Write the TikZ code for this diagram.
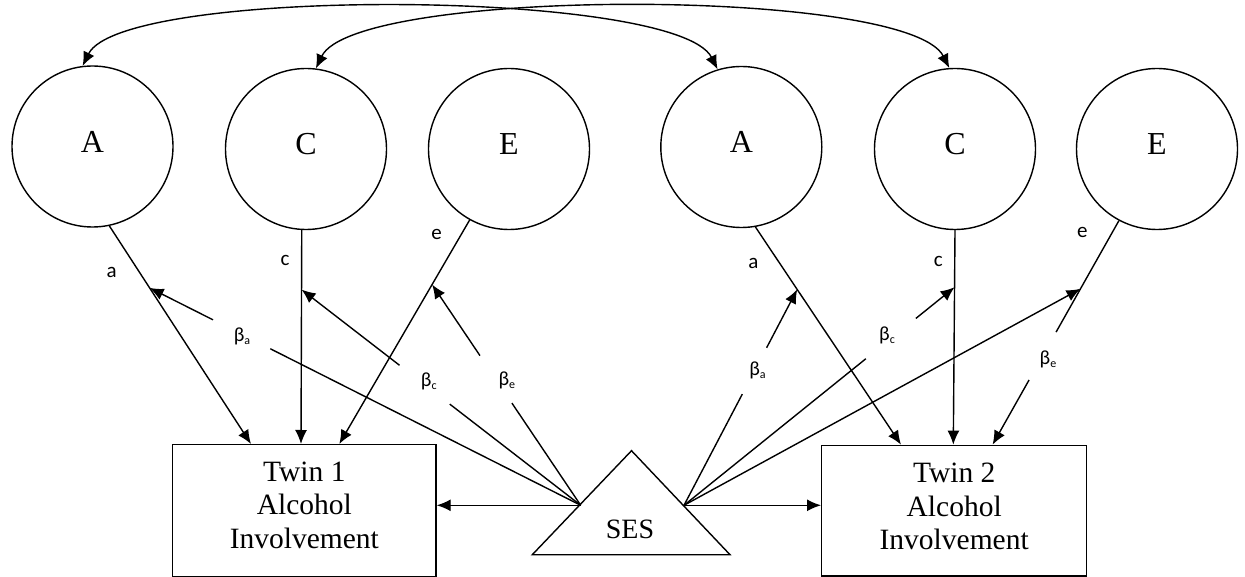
\documentclass[tikz,border=0pt]{standalone}
\usepackage{fontspec}
\setmainfont{Liberation Serif}
\newfontfamily\lblfont{Carlito}
\usetikzlibrary{arrows.meta,calc}
\newcommand{\betasub}[1]{β\raisebox{-3pt}{\fontsize{12}{12}\selectfont #1}}
\tikzset{
  ln/.style={line width=1.4pt},
  arr/.style={line width=1.4pt, -{Latex[length=14pt,width=12pt]}},
  dblarr/.style={line width=1.4pt, {Latex[length=14pt,width=12pt]}-{Latex[length=14pt,width=12pt]}},
  latent/.style={circle, draw, line width=1.4pt, minimum size=161pt, inner sep=0pt,
    font=\fontsize{32}{32}\selectfont, text height=21pt, text depth=9pt},
  obs/.style={rectangle, draw, line width=1.4pt, inner sep=0pt},
  boxtext/.style={align=center, inner sep=0pt, anchor=north, font=\fontsize{29.5}{33.5}\selectfont},
  plabel/.style={inner sep=0pt, font=\lblfont\fontsize{21}{21}\selectfont},
  blabel/.style={inner sep=0pt, font=\lblfont\fontsize{20}{20}\selectfont},
}
\begin{document}
\begin{tikzpicture}[x=1pt,y=-1pt]
\useasboundingbox (0,0) rectangle (1245,577);
\fill[white] (0,0) rectangle (1245,577);

% latent factors
\node[latent] (A1) at (92.5,146.5) {A};
\node[latent] (C1) at (306,149) {C};
\node[latent] (E1) at (509,149) {E};
\node[latent] (A2) at (741.3,147) {A};
\node[latent] (C2) at (955,149) {C};
\node[latent] (E2) at (1157,149) {E};

% observed boxes
\node[obs, minimum width=263.3pt, minimum height=131.6pt] (T1) at (304.35,510.5) {};
\node[obs, minimum width=265pt, minimum height=130.7pt] (T2) at (954.2,510.7) {};
\node[boxtext] (T1txt) at (304.35,461.3) {Twin 1\\Alcohol\\Involvement};
\node[boxtext] (T2txt) at (954.2,463) {Twin 2\\Alcohol\\Involvement};

% SES triangle
\draw[ln, line join=miter] (532.3,554.7) -- (631.5,450.7) -- (730,554.7) -- cycle;
\node[inner sep=0pt, anchor=base, font=\fontsize{28}{28}\selectfont] (SES) at (630,538.7) {SES};
\coordinate (sesL) at (580.7,505.3);
\coordinate (sesR) at (684,505.3);

% correlations between twins
\draw[dblarr] (A1.97.7) .. controls (122,-14) and (677,-11) .. (A2.107.7);
\draw[dblarr] (C1.83.6) .. controls (355,-13) and (908,-13) .. (C2.94.7);

% path end points
\coordinate (a1s) at (A1.282);
\coordinate (a1t) at ([xshift=79pt]T1.north west);
\coordinate (c1s) at (C1.267);
\coordinate (c1t) at ([xshift=129pt]T1.north west);
\coordinate (e1s) at (E1.241.4);
\coordinate (e1t) at ([xshift=167.3pt]T1.north west);
\coordinate (a2s) at (A2.280.7);
\coordinate (a2t) at ([xshift=80pt]T2.north west);
\coordinate (c2s) at (C2.270);
\coordinate (c2t) at ([xshift=132.3pt]T2.north west);
\coordinate (e2s) at (E2.242);
\coordinate (e2t) at ([xshift=171.6pt]T2.north west);

% ACE paths
\draw[arr] (a1s) -- (a1t);
\draw[arr] (c1s) -- (c1t);
\draw[arr] (e1s) -- (e1t);
\draw[arr] (a2s) -- (a2t);
\draw[arr] (c2s) -- (c2t);
\draw[ln] (e2s) -- ($(e2s)!0.4975!(e2t)$);
\draw[arr] ($(e2s)!0.711!(e2t)$) -- (e2t);

% moderation targets
\coordinate (mA1) at ($(a1s)!0.284!(a1t)$);
\coordinate (mC1) at ($(c1s)!0.278!(c1t)$);
\coordinate (mE1) at ($(e1s)!0.288!(e1t)$);
\coordinate (mA2) at ($(a2s)!0.287!(a2t)$);
\coordinate (mC2) at ($(c2s)!0.266!(c2t)$);
\coordinate (mE2) at ($(e2s)!0.304!(e2t)$);

% SES to twins
\draw[arr] (sesL) -- (sesL -| T1.east);
\draw[arr] (sesR) -- (sesR -| T2.west);

% moderation lines, twin 1
\draw[ln] (sesL) -- ($(sesL)!0.720!(mA1)$);
\draw[arr] ($(sesL)!0.853!(mA1)$) -- (mA1);
\draw[ln] (sesL) -- ($(sesL)!0.469!(mC1)$);
\draw[arr] ($(sesL)!0.649!(mC1)$) -- (mC1);
\draw[ln] (sesL) -- ($(sesL)!0.463!(mE1)$);
\draw[arr] ($(sesL)!0.678!(mE1)$) -- (mE1);

% moderation lines, twin 2
\draw[ln] (sesR) -- ($(sesR)!0.515!(mA2)$);
\draw[arr] ($(sesR)!0.730!(mA2)$) -- (mA2);
\draw[ln] (sesR) -- ($(sesR)!0.672!(mC2)$);
\draw[arr] ($(sesR)!0.857!(mC2)$) -- (mC2);
\draw[arr] (sesR) -- (mE2);

% path labels
\node[plabel] (la1) at (111.7,272) {a};
\node[plabel] (lc1) at (285,260) {c};
\node[plabel] (le1) at (436.7,234.3) {e};
\node[plabel] (la2) at (753.3,263.3) {a};
\node[plabel] (lc2) at (938.3,261.7) {c};
\node[plabel] (le2) at (1082.3,232.3) {e};

% beta labels
\node[blabel] (ba1) at (242,336.3) {\betasub{a}};
\node[blabel] (bc1) at (428.8,381.3) {\betasub{c}};
\node[blabel] (be1) at (506.8,380) {\betasub{e}};
\node[blabel] (ba2) at (757.5,370.8) {\betasub{a}};
\node[blabel] (bc2) at (887,335) {\betasub{c}};
\node[blabel] (be2) at (1048,359.7) {\betasub{e}};
\end{tikzpicture}
\end{document}
